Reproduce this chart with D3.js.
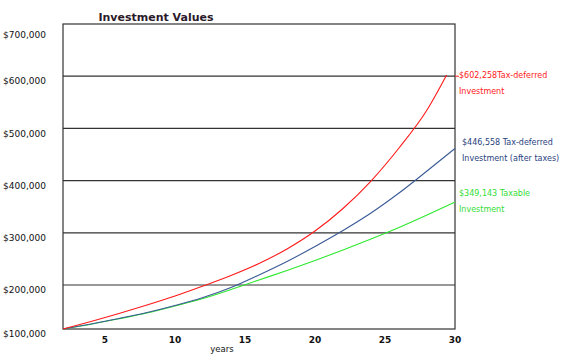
<!DOCTYPE html>
<html>
<head>
<meta charset="utf-8">
<script src="https://cdn.jsdelivr.net/npm/d3@7"></script>
<style>
  html, body { margin: 0; padding: 0; background: #fff; }
  svg { display: block; }
  text { font-family: "DejaVu Sans", sans-serif; }
</style>
</head>
<body>
<svg id="chart" width="576" height="359"></svg>
<script>
// ---- data ----
const years      = [2, 4, 6, 8, 10, 12, 14, 16, 18, 20, 22, 24, 26, 28, 30];
const redYears   = [2, 4, 6, 8, 10, 12, 14, 16, 18, 20, 22, 24, 26, 28, 29.4];
const taxDeferred      = [100000, 117000, 135200, 154500, 175000, 197700, 218200, 241200, 269000, 303400, 346600, 399200, 462500, 535200, 602258];
const taxDeferredAfter = [100000, 111400, 123900, 137500, 153400, 171600, 194300, 219200, 245000, 273800, 304400, 337900, 376200, 418400, 461500];
const taxable          = [100000, 110900, 123200, 136400, 152300, 169300, 189800, 209600, 227800, 246900, 267000, 288100, 310200, 334100, 359000];
const yTicks = [100000, 200000, 300000, 400000, 500000, 600000, 700000];
const yTickLabels = ["$100,000", "$200,000", "$300,000", "$400,000", "$500,000", "$600,000", "$700,000"];
const xTicks = [5, 10, 15, 20, 25, 30];
const labelLines = {
  red:   ["$602,258Tax-deferred", "Investment"],
  blue:  ["$446,558 Tax-deferred", "Investment (after taxes)"],
  green: ["$349,143 Taxable", "Investment"]
};

// ---- layout ----
const M = { left: 63, right: 455, top: 24, bottom: 329, firstBand: 285 };
const colors = { red: "#ff1a1a", blue: "#3a5a96", green: "#2ee82e" };
const textColors = { red: "#ff1a1a", blue: "#2a3f80", green: "#33dd33" };

const svg = d3.select("#chart");
const x = d3.scaleLinear().domain([2, 30]).range([M.left, M.right]);
const y = d3.scaleLinear().domain([100000, 200000, 700000]).range([M.bottom, M.firstBand, M.top]);

// gridlines
svg.append("g").selectAll("line")
  .data(yTicks.slice(1, -1))
  .join("line")
  .attr("x1", M.left).attr("x2", M.right)
  .attr("y1", d => y(d)).attr("y2", d => y(d))
  .attr("stroke", "#333").attr("stroke-width", 1.2);

// frame
svg.append("rect")
  .attr("x", M.left).attr("y", M.top)
  .attr("width", M.right - M.left).attr("height", M.bottom - M.top)
  .attr("fill", "none").attr("stroke", "#333").attr("stroke-width", 1.2);

// y labels
svg.append("g").selectAll("text")
  .data(yTicks)
  .join("text")
  .attr("x", 3)
  .attr("y", d => Math.min(Math.max(y(d) + 5, M.top + 11), M.bottom + 9))
  .attr("dy", "0.35em")
  .attr("font-size", 9)
  .attr("fill", "#111")
  .text((d, i) => yTickLabels[i]);

// x labels
svg.append("g").selectAll("text")
  .data(xTicks)
  .join("text")
  .attr("x", d => x(d))
  .attr("y", 340)
  .attr("dy", "0.35em")
  .attr("text-anchor", "middle")
  .attr("font-size", 9)
  .attr("font-weight", "bold")
  .attr("fill", "#111")
  .text(d => d);

svg.append("text")
  .attr("x", 222).attr("y", 349).attr("dy", "0.35em")
  .attr("text-anchor", "middle")
  .attr("font-size", 8.5)
  .attr("fill", "#111")
  .text("years");

// title
svg.append("text")
  .attr("x", 156).attr("y", 21)
  .attr("text-anchor", "middle")
  .attr("font-size", 11)
  .attr("font-weight", "bold")
  .attr("fill", "#2a1a2a")
  .text("Investment Values");

// lines
const line = d3.line().curve(d3.curveMonotoneX).x(d => x(d[0])).y(d => y(d[1]));
const series = [
  { key: "green", xs: years, vs: taxable },
  { key: "blue", xs: years, vs: taxDeferredAfter },
  { key: "red", xs: redYears, vs: taxDeferred }
];
series.forEach(s => {
  svg.append("path")
    .datum(s.xs.map((t, i) => [t, s.vs[i]]))
    .attr("d", line)
    .attr("fill", "none")
    .attr("stroke", colors[s.key])
    .attr("stroke-width", 1.1);
});

// end labels
const labelPos = {
  red:   { x: 459, y: y(600000) - 1 },
  blue:  { x: 462, y: y(taxDeferredAfter[taxDeferredAfter.length - 1]) - 6 },
  green: { x: 459, y: y(taxable[taxable.length - 1]) - 9 }
};
// small leader dash for the red label
svg.append("line")
  .attr("x1", M.right).attr("x2", M.right + 4)
  .attr("y1", y(600000)).attr("y2", y(600000))
  .attr("stroke", colors.red).attr("stroke-width", 1);

Object.keys(labelLines).forEach(k => {
  const g = svg.append("text")
    .attr("x", labelPos[k].x).attr("y", labelPos[k].y)
    .attr("font-size", 8)
    .attr("fill", textColors[k]);
  labelLines[k].forEach((t, i) => {
    g.append("tspan")
      .attr("x", labelPos[k].x)
      .attr("y", labelPos[k].y + i * 16)
      .attr("dy", "0.35em")
      .text(t);
  });
});
</script>
</body>
</html>
